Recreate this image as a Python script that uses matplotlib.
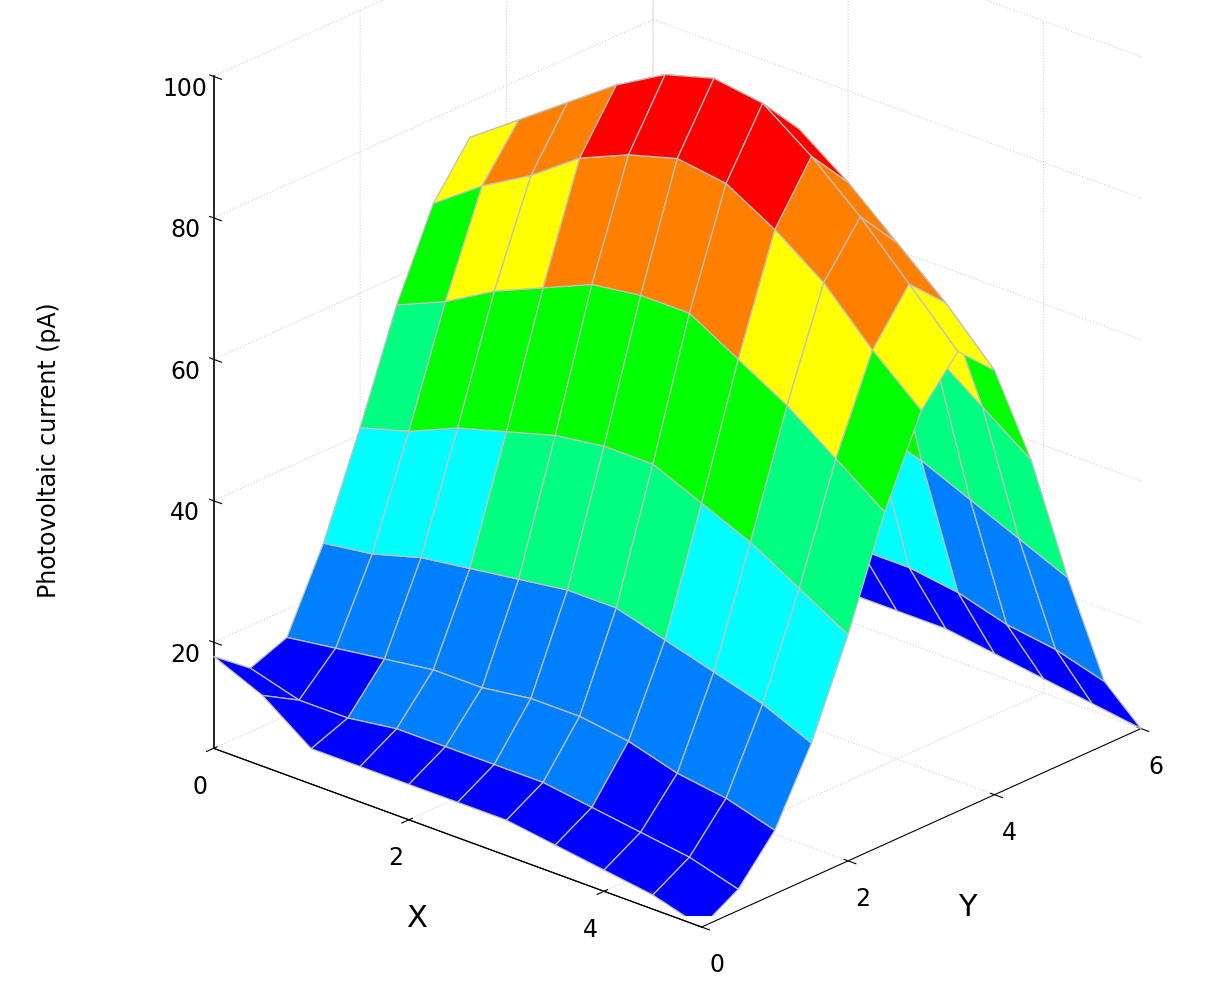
import matplotlib
matplotlib.use("Agg")
import matplotlib.pyplot as plt
import numpy as np
from matplotlib.colors import ListedColormap, BoundaryNorm

# grid positions (step 0.5)
x_vals = [0, 0.5, 1, 1.5, 2, 2.5, 3, 3.5, 4, 4.5, 5]
y_vals = [0, 0.5, 1, 1.5, 2, 2.5, 3, 3.5, 4, 4.5, 5, 5.5, 6]

# photovoltaic current (pA), one row per x value
z_rows = [
    [18, 14, 16, 27, 41, 56, 68, 75, 70, 54, 34, 16, 8],
    [15, 12, 17, 28, 43, 59, 73, 80, 75, 58, 36, 17, 8],
    [10, 12, 18, 30, 46, 63, 77, 85, 79, 61, 38, 18, 8],
    [10, 13, 19, 31, 48, 66, 82, 90, 84, 65, 40, 19, 9],
    [10, 13, 19, 32, 50, 69, 85, 94, 88, 68, 41, 19, 9],
    [10, 13, 20, 33, 51, 70, 87, 96, 90, 69, 42, 20, 9],
    [10, 13, 20, 33, 51, 70, 86, 95, 89, 68, 42, 20, 9],
    [9, 12, 19, 31, 48, 66, 82, 90, 84, 65, 40, 19, 8],
    [8, 11, 17, 29, 45, 62, 77, 84, 78, 60, 37, 17, 7],
    [7, 10, 16, 27, 41, 57, 70, 77, 72, 55, 34, 16, 6],
    [5, 8, 14, 24, 37, 52, 64, 70, 65, 50, 31, 14, 5],
]

band_colors = ['#0000ff', '#0080ff', '#00ffff', '#00ff80',
               '#00ff00', '#ffff00', '#ff8000', '#ff0000']
band_levels = [0, 15, 30, 40, 52, 65, 75, 87, 100]

X, Y = np.meshgrid(x_vals, y_vals, indexing='ij')
Z = np.array(z_rows, dtype=float)

cmap = ListedColormap(band_colors)
norm = BoundaryNorm(band_levels, cmap.N)
zc = (Z[:-1, :-1] + Z[1:, :-1] + Z[:-1, 1:] + Z[1:, 1:]) / 4
fc = cmap(norm(zc))

fig = plt.figure(figsize=(12.18, 10), dpi=100)
ax = fig.add_axes([0.07, 0.084, 0.95, 1.0], projection='3d', proj_type='ortho')
ax.set_box_aspect((1, 1.0, 1.12), zoom=1.15)
ax.plot_surface(X, Y, Z, facecolors=fc, edgecolor='#c0c0c0', linewidth=0.9,
                shade=False, rstride=1, cstride=1, antialiased=True)

ax.view_init(elev=24, azim=-48)
ax.set_xlim(0, 5)
ax.set_ylim(0, 6)
ax.set_zlim(5, 100)
ax.set_xticks([0, 2, 4])
ax.set_yticks([0, 2, 4, 6])
ax.set_zticks([20, 40, 60, 80, 100])
ax.tick_params(labelsize=17)
ax.set_xlabel('X', fontsize=22, labelpad=14)
ax.set_ylabel('Y', fontsize=22, labelpad=14)
ax.zaxis._axinfo['juggled'] = (1, 0, 2)
# black z axis line along the left corner
ax.plot([0, 0], [0, 0], [5, 100], color='black', lw=1.2)
fig.text(0.04, 0.55, 'Photovoltaic current (pA)', rotation=90,
         fontsize=17, va='center', ha='center')

for axis in (ax.xaxis, ax.yaxis, ax.zaxis):
    axis.set_pane_color((1, 1, 1, 0))
    axis.pane.set_edgecolor('black')
    axis._axinfo['grid']['color'] = '#d0d0d0'
    axis._axinfo['grid']['linestyle'] = ':'
    axis._axinfo['grid']['linewidth'] = 0.8

fig.savefig('out.png', dpi=100)
